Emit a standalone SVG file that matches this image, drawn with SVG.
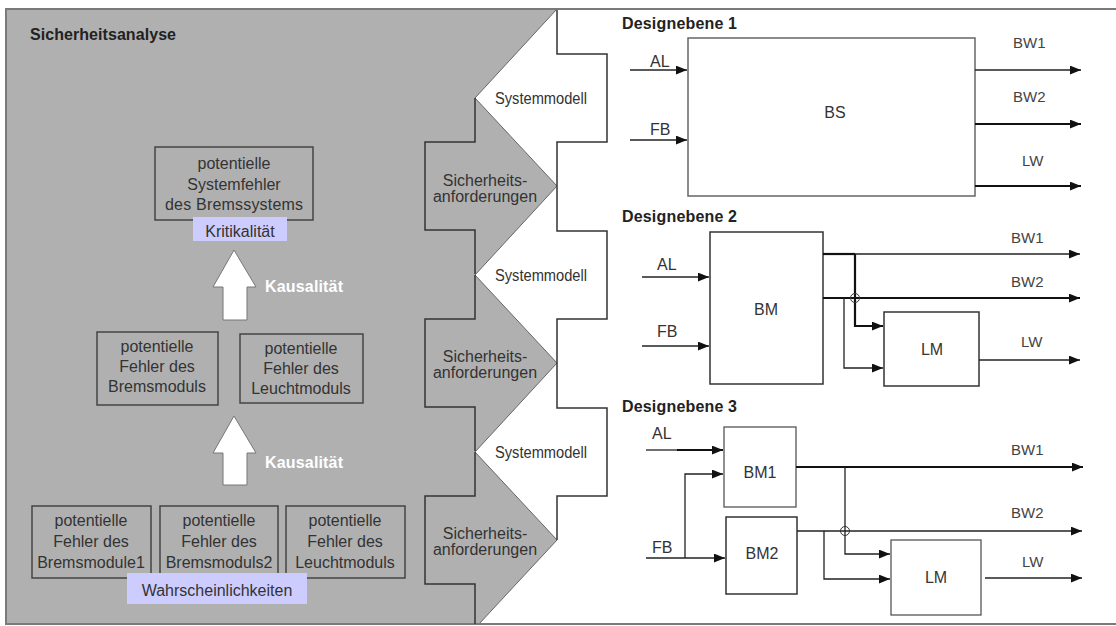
<svg xmlns="http://www.w3.org/2000/svg" width="1116" height="626" viewBox="0 0 1116 626">
<defs>
<style>
.t{font-family:"Liberation Sans",Arial,sans-serif;font-size:16px;fill:#333}
.tc{text-anchor:middle}
.b{font-weight:bold;fill:#222}
.kw{font-family:"Liberation Sans",Arial,sans-serif;font-size:16px;font-weight:bold;fill:#fff}
.lbl{font-family:"Liberation Sans",Arial,sans-serif;font-size:15px;fill:#444}
.box{fill:none;stroke:#444;stroke-width:1.5}
.wbox{fill:#fff;stroke:#333;stroke-width:1.5}
.lav{fill:#ccccff}
.out{fill:none;stroke:#333;stroke-width:1.5}
.ln{fill:none;stroke:#222;stroke-width:1.3}
.lnb{fill:none;stroke:#111;stroke-width:2.2}
.blk{fill:#fff;stroke:#777;stroke-width:1}
</style>
<marker id="ah" viewBox="0 0 10 8" refX="10" refY="4" markerWidth="11" markerHeight="9" markerUnits="userSpaceOnUse" orient="auto">
<path d="M0,0 L10,4 L0,8 z" fill="#111"/>
</marker>
</defs>

<rect x="0" y="0" width="1116" height="626" fill="#fff"/>

<!-- gray analysis area with zigzag edge -->
<polygon points="6,9 557,9 475,98 557,186 475,275 557,363 475,452 557,540 479,624 6,624" fill="#b0b0b0"/>
<polyline points="557,9 475,98 557,186 475,275 557,363 475,452 557,540 479,624" fill="none" stroke="#666" stroke-width="1"/>

<!-- frame -->
<rect x="6" y="9" width="1114" height="615" fill="none" stroke="#7a7a7a" stroke-width="2"/>

<!-- interlocking block-arrow outlines -->
<g id="systemmodel-arrows">
<path class="out" d="M557,10 L557,54 L607,54 L607,142 L557,142 L557,186 M557,186 L557,231 L607,231 L607,319 L557,319 L557,363 M557,363 L557,408 L607,408 L607,496 L557,496 L557,540"/>
<text class="t tc" x="541" y="104" font-size="15" textLength="92" lengthAdjust="spacingAndGlyphs">Systemmodell</text>
<text class="t tc" x="541" y="281" font-size="15" textLength="92" lengthAdjust="spacingAndGlyphs">Systemmodell</text>
<text class="t tc" x="541" y="458" font-size="15" textLength="92" lengthAdjust="spacingAndGlyphs">Systemmodell</text>
</g>
<g id="sicherheits-arrows">
<path class="out" d="M475,98 L475,142 L425,142 L425,230 L475,230 L475,274 M475,275 L475,319 L425,319 L425,407 L475,407 L475,451 M475,452 L475,496 L425,496 L425,584 L475,584 L475,624"/>
<text class="t tc" x="485" y="186" font-size="15">Sicherheits-</text>
<text class="t tc" x="485" y="202" font-size="15">anforderungen</text>
<text class="t tc" x="485" y="362" font-size="15">Sicherheits-</text>
<text class="t tc" x="485" y="378" font-size="15">anforderungen</text>
<text class="t tc" x="485" y="539" font-size="15">Sicherheits-</text>
<text class="t tc" x="485" y="555" font-size="15">anforderungen</text>
</g>

<text class="t b" x="30" y="40" textLength="146" lengthAdjust="spacing">Sicherheitsanalyse</text>

<!-- left: analysis hierarchy -->
<g id="n-systemfehler">
<rect class="box" x="155" y="147" width="158" height="73"/>
<text class="t tc" x="234" y="169">potentielle</text>
<text class="t tc" x="234" y="190">Systemfehler</text>
<text class="t tc" x="234" y="210" textLength="138" lengthAdjust="spacing">des Bremssystems</text>
</g>
<g id="n-kritikalitaet">
<rect class="lav" x="193" y="217" width="94" height="24"/>
<text class="t tc" x="240" y="237">Kritikalität</text>
</g>
<g id="n-bremsmodul">
<rect class="box" x="97" y="332" width="121" height="73"/>
<text class="t tc" x="157" y="352">potentielle</text>
<text class="t tc" x="157" y="372">Fehler des</text>
<text class="t tc" x="157" y="392">Bremsmoduls</text>
</g>
<g id="n-leuchtmodul">
<rect class="box" x="240" y="334" width="123" height="69"/>
<text class="t tc" x="301" y="354">potentielle</text>
<text class="t tc" x="301" y="374">Fehler des</text>
<text class="t tc" x="301" y="394">Leuchtmoduls</text>
</g>
<g id="n-bm1">
<rect class="box" x="32" y="506" width="119" height="72"/>
<text class="t tc" x="91" y="526">potentielle</text>
<text class="t tc" x="91" y="547">Fehler des</text>
<text class="t tc" x="91" y="568">Bremsmodule1</text>
</g>
<g id="n-bm2">
<rect class="box" x="160" y="506" width="118" height="72"/>
<text class="t tc" x="219" y="526">potentielle</text>
<text class="t tc" x="219" y="547">Fehler des</text>
<text class="t tc" x="219" y="568">Bremsmoduls2</text>
</g>
<g id="n-lm">
<rect class="box" x="286" y="506" width="119" height="72"/>
<text class="t tc" x="345" y="526">potentielle</text>
<text class="t tc" x="345" y="547">Fehler des</text>
<text class="t tc" x="345" y="568">Leuchtmoduls</text>
</g>
<g id="n-wahrscheinlichkeiten">
<rect class="lav" x="127" y="573" width="180" height="31"/>
<text class="t tc" x="217" y="596">Wahrscheinlichkeiten</text>
</g>

<g id="kausal-arrows">
<polygon class="blk" points="234,250 256,287 247,287 247,320 223,320 223,287 213,287"/>
<text class="kw" x="265" y="292" textLength="78" lengthAdjust="spacing">Kausalität</text>
<polygon class="blk" points="234,416 256,453 247,453 247,485 223,485 223,453 213,453"/>
<text class="kw" x="265" y="468" textLength="78" lengthAdjust="spacing">Kausalität</text>
</g>

<!-- right: design levels -->
<text class="t b" x="622" y="29" textLength="115" lengthAdjust="spacing">Designebene 1</text>
<text class="t b" x="622" y="222" textLength="115" lengthAdjust="spacing">Designebene 2</text>
<text class="t b" x="622" y="412" textLength="115" lengthAdjust="spacing">Designebene 3</text>

<g id="n-BS">
<rect x="688" y="38" width="287" height="158" fill="#fff" stroke="#666" stroke-width="1.5"/>
<text class="t tc" x="835" y="118">BS</text>
</g>
<g id="n-BM">
<rect class="wbox" x="710" y="232" width="113" height="152"/>
<text class="t tc" x="766" y="315">BM</text>
</g>
<g id="n-LM2">
<rect class="wbox" x="884" y="312" width="95" height="74"/>
<text class="t tc" x="932" y="355">LM</text>
</g>
<g id="n-BM1">
<rect x="724" y="427" width="72" height="80" fill="#fff" stroke="#555" stroke-width="1.3"/>
<text class="t tc" x="760" y="478">BM1</text>
</g>
<g id="n-BM2">
<rect class="wbox" x="726" y="517" width="71" height="77"/>
<text class="t tc" x="762" y="559">BM2</text>
</g>
<g id="n-LM3">
<rect x="891" y="540" width="90" height="75" fill="#fff" stroke="#555" stroke-width="1.3"/>
<text class="t tc" x="936" y="583">LM</text>
</g>

<g id="connectors">
<!-- level 1 -->
<path class="ln" d="M630,70 H687" marker-end="url(#ah)"/>
<path class="ln" d="M630,140 H687" marker-end="url(#ah)"/>
<path class="ln" d="M975,70 H1081" marker-end="url(#ah)"/>
<path class="lnb" d="M975,124 H1081" marker-end="url(#ah)"/>
<path class="lnb" d="M975,186 H1081" marker-end="url(#ah)"/>
<!-- level 2 -->
<path class="ln" d="M642,277 H709" marker-end="url(#ah)"/>
<path class="ln" d="M642,346 H709" marker-end="url(#ah)"/>
<path class="lnb" d="M823,254 H855"/>
<path class="ln" d="M855,254 H1080" marker-end="url(#ah)"/>
<path class="lnb" d="M855,254 V326 H883" marker-end="url(#ah)"/>
<path class="lnb" d="M823,298 H1080" marker-end="url(#ah)"/>
<path class="ln" d="M844,298 V368 H883" marker-end="url(#ah)"/>
<circle cx="855" cy="298" r="4.5" fill="none" stroke="#333" stroke-width="1"/>
<path class="ln" d="M979,360 H1080" marker-end="url(#ah)"/>
<!-- level 3 -->
<path class="ln" d="M646,450 H677"/>
<path class="lnb" d="M677,450 H723" marker-end="url(#ah)"/>
<path class="ln" d="M646,558 H725" marker-end="url(#ah)"/>
<path class="ln" d="M685,558 V474 H723" marker-end="url(#ah)"/>
<path class="lnb" d="M796,467 H1083" marker-end="url(#ah)"/>
<path class="ln" d="M845,467 V554 H890" marker-end="url(#ah)"/>
<path class="ln" d="M797,531 H1082" marker-end="url(#ah)"/>
<path class="ln" d="M824,531 V579 H890" marker-end="url(#ah)"/>
<circle cx="845" cy="531" r="4.5" fill="none" stroke="#333" stroke-width="1"/>
<path class="ln" d="M985,578 H1082" marker-end="url(#ah)"/>
</g>

<g id="labels">
<text class="t" x="650" y="67">AL</text>
<text class="t" x="650" y="135">FB</text>
<text class="lbl" x="1013" y="48">BW1</text>
<text class="lbl" x="1013" y="102">BW2</text>
<text class="lbl" x="1022" y="166">LW</text>
<text class="t" x="657" y="270">AL</text>
<text class="t" x="657" y="337">FB</text>
<text class="lbl" x="1011" y="243">BW1</text>
<text class="lbl" x="1011" y="287">BW2</text>
<text class="lbl" x="1021" y="347">LW</text>
<text class="t" x="652" y="439">AL</text>
<text class="t" x="652" y="553">FB</text>
<text class="lbl" x="1011" y="455">BW1</text>
<text class="lbl" x="1011" y="518">BW2</text>
<text class="lbl" x="1022" y="567">LW</text>
</g>
</svg>
